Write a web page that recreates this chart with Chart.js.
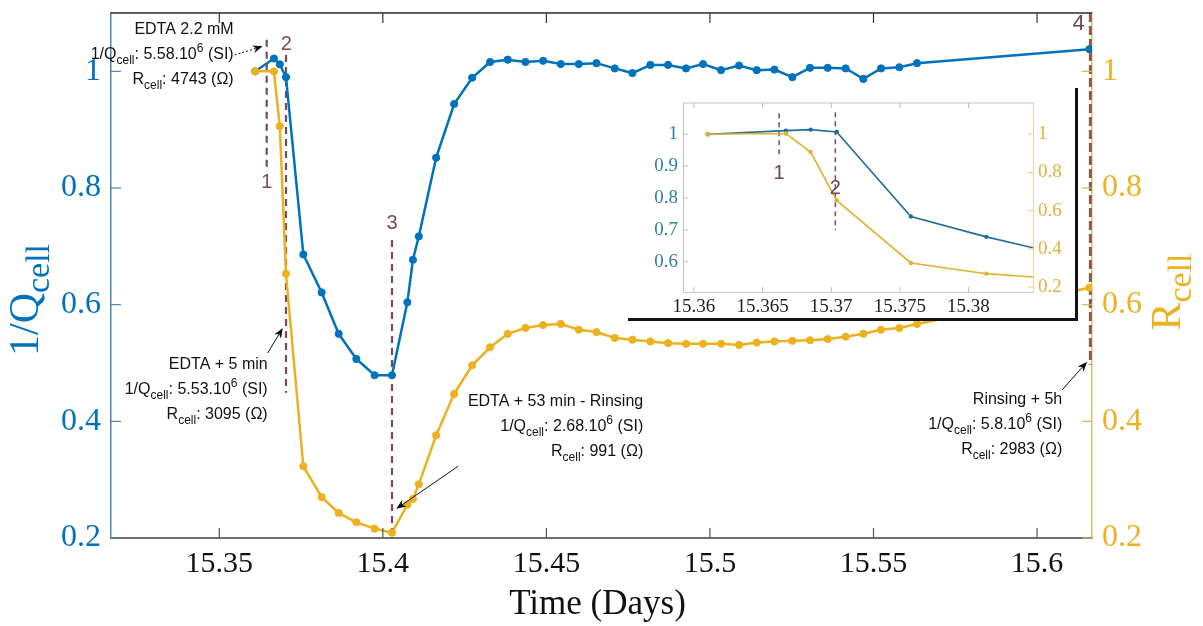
<!DOCTYPE html>
<html>
<head>
<meta charset="utf-8">
<script src="https://cdn.jsdelivr.net/npm/chart.js@4/dist/chart.umd.min.js"></script>
<style>
  html, body { margin: 0; padding: 0; background: #fff; }
  #wrap { position: relative; width: 1203px; height: 626px; }
  #inset { position: absolute; left: 628px; top: 88px; width: 447px; height: 230px; background: #fff;
           border-right: 3px solid #141414; border-bottom: 3px solid #141414; }
  canvas { display: block; }
</style>
</head>
<body>
<div id="wrap">
  <canvas id="main" width="1203" height="626"></canvas>
  <div id="inset"><canvas id="zoom" width="447" height="230"></canvas></div>
</div>
<script>
// main series (normalised 1/Q and R of the cell)
const days = [15.3610, 15.3667, 15.3685, 15.3704, 15.3757, 15.3813, 15.3865, 15.3919, 15.3975, 15.4028,
  15.4075, 15.4092, 15.4110, 15.4163, 15.4218, 15.4273, 15.4328, 15.4382, 15.4436, 15.4490,
  15.4544, 15.4599, 15.4653, 15.4709, 15.4763, 15.4818, 15.4872, 15.4927, 15.4979, 15.5034,
  15.5089, 15.5143, 15.5197, 15.5252, 15.5306, 15.5360, 15.5415, 15.5469, 15.5523, 15.5579,
  15.5633, 15.6160];
const invQ = [1.000, 1.022, 1.012, 0.990, 0.686, 0.621, 0.550, 0.507, 0.479, 0.479,
  0.604, 0.677, 0.717, 0.852, 0.944, 0.989, 1.016, 1.020, 1.016, 1.018,
  1.0125, 1.0125, 1.014, 1.005, 0.997, 1.011, 1.011, 1.005, 1.0125, 1.002,
  1.010, 1.002, 1.003, 0.990, 1.006, 1.006, 1.005, 0.987, 1.005, 1.007,
  1.014, 1.038];
const rCell = [1.000, 1.000, 0.906, 0.653, 0.323, 0.270, 0.243, 0.227, 0.216, 0.209,
  0.257, 0.267, 0.292, 0.376, 0.447, 0.496, 0.527, 0.550, 0.560, 0.565,
  0.567, 0.557, 0.553, 0.543, 0.540, 0.537, 0.534, 0.533, 0.533, 0.533,
  0.531, 0.535, 0.537, 0.538, 0.539, 0.541, 0.545, 0.550, 0.557, 0.560,
  0.567, 0.629];

const xTicks = [15.35, 15.4, 15.45, 15.5, 15.55, 15.6];
const yTicks = [0.2, 0.4, 0.6, 0.8, 1];

// dashed event markers 1..4
const eventLabels = ['1', '2', '3', '4'];
const eventDays = [15.3645, 15.3704, 15.4028, 15.6163];
const eventTop = [1.054, 1.028, 0.711, 1.100];
const eventBottom = [0.835, 0.449, 0.200, 0.497];

// inset (zoom on the start)
const zoomDays = [15.3610, 15.3667, 15.3685, 15.3704, 15.3758, 15.3813, 15.3865];
const zoomInvQ = [1.000, 1.0114, 1.0145, 1.007, 0.742, 0.678, 0.626];
const zoomR = [1.000, 1.004, 0.907, 0.654, 0.326, 0.270, 0.243];
const zoomXTicks = [15.36, 15.365, 15.37, 15.375, 15.38];
const zoomYTicks = [0.6, 0.7, 0.8, 0.9, 1];
const zoomY2Ticks = [0.2, 0.4, 0.6, 0.8, 1];
const zoomEventDays = [15.3662, 15.3703];
const zoomEventTop = [1.066, 1.069];
const zoomEventBottom = [0.924, 0.699];

const blue = '#0072BD';
const gold = '#EDB120';
const eventColor = '#7a4c57';
const serif = 'Liberation Serif';
const sans = 'Liberation Sans';

const toPts = (xs, ys) => xs.map((x, i) => ({x: x, y: ys[i]}));
const setTicks = (vals) => (scale) => { scale.ticks = vals.map(v => ({value: v})); };
const fixSize = (w, h) => (s) => {
  if (w !== null) s.width = w;
  if (h !== null) s.height = h;
  s.paddingTop = 0; s.paddingBottom = 0; s.paddingLeft = 0; s.paddingRight = 0;
};

function qText(v, e) { return [['1/Q'], ['cell', 'sub'], [': ' + v + '.10'], [e, 'sup'], [' (SI)']]; }
function rText(v) { return [['R'], ['cell', 'sub'], [': ' + v + ' (\u03A9)']]; }

const notes = [
  {x: 15.3544, y: 1.075, lines: [[['EDTA 2.2 mM']], qText('5.58', '6'), rText('4743')]},
  {x: 15.3648, y: 0.5006, lines: [[['EDTA + 5 min']], qText('5.53', '6'), rText('3095')]},
  {x: 15.4796, y: 0.437, lines: [[['EDTA + 53 min - Rinsing']], qText('2.68', '6'), rText('991')]},
  {x: 15.6077, y: 0.440, lines: [[['Rinsing + 5h']], qText('5.8', '6'), rText('2983')]}
];
const arrows = [
  {from: [15.3547, 1.028], to: [15.3633, 1.043], dotted: true},
  {from: [15.3648, 0.517], to: [15.3694, 0.560]},
  {from: [15.4230, 0.323], to: [15.4041, 0.250]},
  {from: [15.6077, 0.454], to: [15.6153, 0.502]}
];

function segFont(kind, size, family, subScale) {
  const s = kind ? Math.round(size * subScale) : size;
  return s + 'px "' + family + '"';
}
function richWidth(ctx, segs, size, family, subScale) {
  let w = 0;
  for (const [t, k] of segs) { ctx.font = segFont(k, size, family, subScale); w += ctx.measureText(t).width; }
  return w;
}
function drawRich(ctx, segs, x, y, size, family, align, subScale, subDrop) {
  subScale = subScale || 0.75;
  subDrop = subDrop || 0.32;
  const w = richWidth(ctx, segs, size, family, subScale);
  let cx = align === 'right' ? x - w : (align === 'center' ? x - w / 2 : x);
  ctx.textAlign = 'left';
  ctx.textBaseline = 'alphabetic';
  for (const [t, k] of segs) {
    ctx.font = segFont(k, size, family, subScale);
    const dy = k === 'sub' ? size * subDrop : (k === 'sup' ? -size * 0.42 : 0);
    ctx.fillText(t, cx, y + dy);
    cx += ctx.measureText(t).width;
  }
}
function arrow(ctx, x1, y1, x2, y2, dotted) {
  const a = Math.atan2(y2 - y1, x2 - x1), c = Math.cos(a), s = Math.sin(a);
  const hl = 10, hw = 4;
  ctx.save();
  ctx.strokeStyle = '#111';
  ctx.fillStyle = '#111';
  ctx.lineWidth = 1;
  ctx.setLineDash(dotted ? [2, 2] : []);
  ctx.beginPath();
  ctx.moveTo(x1, y1);
  ctx.lineTo(x2 - hl * 0.7 * c, y2 - hl * 0.7 * s);
  ctx.stroke();
  ctx.setLineDash([]);
  ctx.beginPath();
  ctx.moveTo(x2, y2);
  ctx.lineTo(x2 - hl * c + hw * s, y2 - hl * s - hw * c);
  ctx.lineTo(x2 - hl * 0.7 * c, y2 - hl * 0.7 * s);
  ctx.lineTo(x2 - hl * c - hw * s, y2 - hl * s + hw * c);
  ctx.closePath();
  ctx.fill();
  ctx.restore();
}
function innerTicks(chart, specs) {
  const ctx = chart.ctx, a = chart.chartArea;
  ctx.save();
  for (const sp of specs) {
    const sc = chart.scales[sp.id];
    ctx.strokeStyle = sp.color;
    ctx.lineWidth = sp.width;
    for (const t of sc.ticks) {
      const p = sc.getPixelForValue(t.value);
      ctx.beginPath();
      if (sp.side === 'left') { ctx.moveTo(a.left, p); ctx.lineTo(a.left + sp.len, p); }
      if (sp.side === 'right') { ctx.moveTo(a.right, p); ctx.lineTo(a.right - sp.len, p); }
      if (sp.side === 'bottom') { ctx.moveTo(p, a.bottom); ctx.lineTo(p, a.bottom - sp.len); }
      if (sp.side === 'top') { ctx.moveTo(p, a.top); ctx.lineTo(p, a.top + sp.len); }
      ctx.stroke();
    }
  }
  ctx.restore();
}

const mainDecor = {
  id: 'mainDecor',
  afterDraw(chart) {
    const ctx = chart.ctx, a = chart.chartArea;
    const sx = chart.scales.x, sy = chart.scales.y;
    ctx.save();
    // top frame line
    ctx.strokeStyle = '#2a2a2a';
    ctx.lineWidth = 1.5;
    ctx.beginPath();
    ctx.moveTo(a.left, a.top);
    ctx.lineTo(a.right, a.top);
    ctx.stroke();
    innerTicks(chart, [
      {id: 'x', side: 'bottom', color: '#555', width: 1.2, len: 10},
      {id: 'x', side: 'top', color: '#333', width: 1.2, len: 10},
      {id: 'y', side: 'left', color: '#4d84ad', width: 1.2, len: 10},
      {id: 'y2', side: 'right', color: '#d9b25a', width: 1.2, len: 10}
    ]);
    // event numbers
    const labelPos = [[15.3645, 0.809], [15.3705, 1.046], [15.4028, 0.739], [15.6127, 1.081]];
    ctx.textAlign = 'center';
    ctx.textBaseline = 'middle';
    eventLabels.forEach((t, i) => {
      ctx.fillStyle = i === 3 ? '#6e4a44' : '#7a4c57';
      ctx.font = (i === 3 ? 22 : 20) + 'px "' + sans + '"';
      ctx.fillText(t, sx.getPixelForValue(labelPos[i][0]), sy.getPixelForValue(labelPos[i][1]));
    });
    // annotations
    ctx.fillStyle = '#111';
    for (const n of notes) {
      const x = sx.getPixelForValue(n.x);
      let y = sy.getPixelForValue(n.y) + 6;
      for (const line of n.lines) {
        drawRich(ctx, line, x, y, 16, sans, 'right', 0.75, 0.32);
        y += 25;
      }
    }
    for (const ar of arrows) {
      arrow(ctx, sx.getPixelForValue(ar.from[0]), sy.getPixelForValue(ar.from[1]),
        sx.getPixelForValue(ar.to[0]), sy.getPixelForValue(ar.to[1]), ar.dotted);
    }
    // axis titles
    ctx.fillStyle = '#111';
    drawRich(ctx, [['Time (Days)']], (a.left + a.right) / 2 - 4, 614, 35, serif, 'center');
    ctx.save();
    ctx.translate(38, 300);
    ctx.rotate(-Math.PI / 2);
    ctx.fillStyle = blue;
    drawRich(ctx, [['1/Q'], ['cell', 'sub']], 0, 0, 42, serif, 'center', 0.8, 0.25);
    ctx.restore();
    ctx.save();
    ctx.translate(1180, 292);
    ctx.rotate(-Math.PI / 2);
    ctx.fillStyle = gold;
    drawRich(ctx, [['R'], ['cell', 'sub']], 0, 0, 42, serif, 'center', 0.8, 0.25);
    ctx.restore();
    ctx.restore();
  }
};

const eventSets = eventDays.map((d, i) => ({
  data: [{x: d, y: eventTop[i]}, {x: d, y: eventBottom[i]}],
  yAxisID: 'y',
  borderColor: i === 3 ? '#8a5a48' : eventColor,
  borderWidth: i === 3 ? 3 : 2.2,
  borderDash: i === 3 ? [9, 4] : [7, 5],
  pointRadius: 0,
  clip: false
}));

new Chart(document.getElementById('main').getContext('2d'), {
  type: 'line',
  data: {
    datasets: [
      {data: toPts(days, rCell), yAxisID: 'y2', borderColor: gold, backgroundColor: gold,
        pointBackgroundColor: gold, pointBorderColor: gold, borderWidth: 2.5, pointRadius: 3.6, pointBorderWidth: 1, tension: 0},
      {data: toPts(days, invQ), yAxisID: 'y', borderColor: blue, backgroundColor: blue,
        pointBackgroundColor: blue, pointBorderColor: blue, borderWidth: 2.5, pointRadius: 3.6, pointBorderWidth: 1, tension: 0},
      ...eventSets
    ]
  },
  options: {
    responsive: false,
    animation: false,
    devicePixelRatio: 1,
    layout: {padding: {top: 13, left: 0, right: 0, bottom: 0}},
    plugins: {legend: {display: false}, tooltip: {enabled: false}},
    scales: {
      x: {
        type: 'linear', min: 15.3169, max: 15.6168,
        afterBuildTicks: setTicks(xTicks),
        afterFit: fixSize(null, 88),
        grid: {drawOnChartArea: false, drawTicks: false},
        border: {color: '#6e6e6e', width: 2},
        ticks: {color: '#111', font: {family: serif, size: 30}, padding: 8, maxRotation: 0, autoSkip: false,
          callback: (v) => String(v)}
      },
      y: {
        position: 'left', min: 0.2, max: 1.1,
        afterBuildTicks: setTicks(yTicks),
        afterFit: fixSize(111, null),
        grid: {drawOnChartArea: false, drawTicks: false},
        border: {color: '#4d84ad', width: 1.5},
        ticks: {color: blue, font: {family: serif, size: 32}, padding: 10, callback: (v) => String(v)}
      },
      y2: {
        position: 'right', min: 0.2, max: 1.1,
        afterBuildTicks: setTicks(yTicks),
        afterFit: fixSize(111, null),
        grid: {drawOnChartArea: false, drawTicks: false},
        border: {color: '#e3bf6a', width: 1.5},
        ticks: {color: gold, font: {family: serif, size: 32}, padding: 10, callback: (v) => String(v)}
      }
    }
  },
  plugins: [mainDecor]
});

// inset
const zoomDecor = {
  id: 'zoomDecor',
  afterDraw(chart) {
    const ctx = chart.ctx, a = chart.chartArea;
    const sx = chart.scales.x, sy = chart.scales.y;
    ctx.save();
    ctx.strokeStyle = '#c4c4c4';
    ctx.lineWidth = 1;
    ctx.beginPath();
    ctx.moveTo(a.left, a.top);
    ctx.lineTo(a.right, a.top);
    ctx.stroke();
    innerTicks(chart, [
      {id: 'x', side: 'bottom', color: '#bdbdbd', width: 1, len: 5},
      {id: 'x', side: 'top', color: '#bdbdbd', width: 1, len: 5},
      {id: 'y', side: 'left', color: '#bdbdbd', width: 1, len: 5},
      {id: 'y2', side: 'right', color: '#e6cf8f', width: 1, len: 5}
    ]);
    const lab = [[15.3662, 0.877], [15.3703, 0.830]];
    ctx.fillStyle = '#6b4550';
    ctx.font = '20px "' + sans + '"';
    ctx.textAlign = 'center';
    ctx.textBaseline = 'middle';
    lab.forEach((p, i) => ctx.fillText(eventLabels[i], sx.getPixelForValue(p[0]), sy.getPixelForValue(p[1])));
    ctx.restore();
  }
};

const zoomEvents = zoomEventDays.map((d, i) => ({
  data: [{x: d, y: zoomEventTop[i]}, {x: d, y: zoomEventBottom[i]}],
  yAxisID: 'y', borderColor: eventColor, borderWidth: 1.5, borderDash: [5, 4], pointRadius: 0
}));

new Chart(document.getElementById('zoom').getContext('2d'), {
  type: 'line',
  data: {
    datasets: [
      {data: toPts(zoomDays, zoomR), yAxisID: 'y2', borderColor: '#e3b12f', pointBackgroundColor: '#e3b12f',
        pointBorderColor: '#e3b12f', borderWidth: 1.6, pointRadius: 2.2, pointBorderWidth: 0, tension: 0},
      {data: toPts(zoomDays, zoomInvQ), yAxisID: 'y', borderColor: '#1f6e99', pointBackgroundColor: '#1f6e99',
        pointBorderColor: '#1f6e99', borderWidth: 1.6, pointRadius: 2.2, pointBorderWidth: 0, tension: 0},
      ...zoomEvents
    ]
  },
  options: {
    responsive: false,
    animation: false,
    devicePixelRatio: 1,
    layout: {padding: {top: 15, left: 0, right: 0, bottom: 0}},
    plugins: {legend: {display: false}, tooltip: {enabled: false}},
    scales: {
      x: {
        type: 'linear', min: 15.3592, max: 15.3847,
        afterBuildTicks: setTicks(zoomXTicks),
        afterFit: fixSize(null, 26),
        grid: {drawOnChartArea: false, drawTicks: false},
        border: {color: '#c4c4c4', width: 1},
        ticks: {color: '#222', font: {family: serif, size: 19}, padding: 4, maxRotation: 0, autoSkip: false,
          callback: (v) => String(v)}
      },
      y: {
        position: 'left', min: 0.505, max: 1.098,
        afterBuildTicks: setTicks(zoomYTicks),
        afterFit: fixSize(55, null),
        grid: {drawOnChartArea: false, drawTicks: false},
        border: {color: '#c4c4c4', width: 1},
        ticks: {color: '#2f7ea8', font: {family: serif, size: 19}, padding: 5, callback: (v) => String(v)}
      },
      y2: {
        position: 'right', min: 0.174, max: 1.164,
        afterBuildTicks: setTicks(zoomY2Ticks),
        afterFit: fixSize(42, null),
        grid: {drawOnChartArea: false, drawTicks: false},
        border: {color: '#ead79e', width: 1},
        ticks: {color: '#dfb03a', font: {family: serif, size: 19}, padding: 5, callback: (v) => String(v)}
      }
    }
  },
  plugins: [zoomDecor]
});
</script>
</body>
</html>
